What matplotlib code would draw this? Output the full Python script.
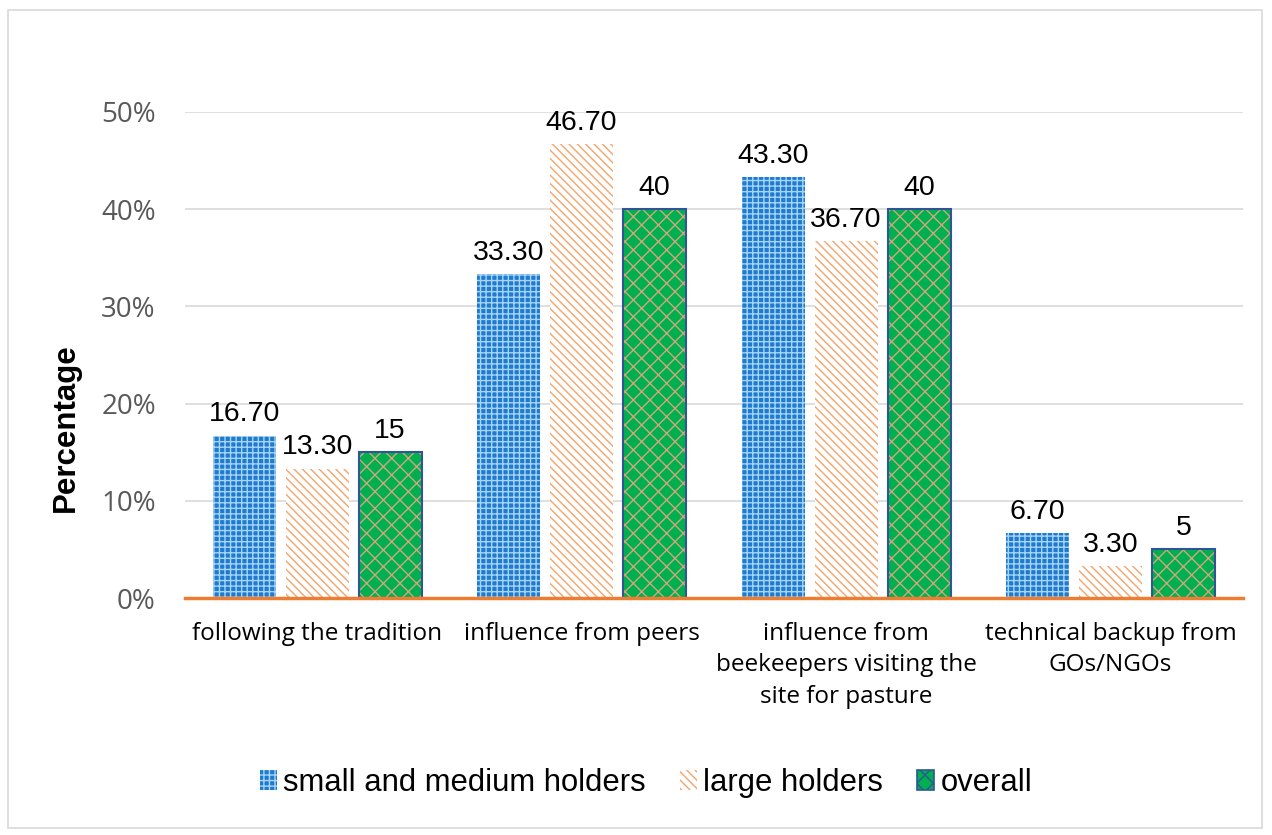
import matplotlib

matplotlib.use("Agg")
import matplotlib.pyplot as plt
import numpy as np
from matplotlib.patches import Rectangle
from matplotlib.ticker import PercentFormatter

categories = ["following the tradition", "influence from peers",
              "influence from\nbeekeepers visiting the\nsite for pasture",
              "technical backup from\nGOs/NGOs"]
series = ["small and medium holders", "large holders", "overall"]
small_medium = [16.70, 33.30, 43.30, 6.70]
large = [13.30, 46.70, 36.70, 3.30]
overall = [15, 40, 40, 5]
labels_small = ["16.70", "33.30", "43.30", "6.70"]
labels_large = ["13.30", "46.70", "36.70", "3.30"]
labels_overall = ["15", "40", "40", "5"]

fig = plt.figure(figsize=(12.72, 8.35), dpi=100)
fig.patches.append(Rectangle((8 / 1272, 1 - 828 / 835), 1254 / 1272, 818 / 835,
                             transform=fig.transFigure, fill=False,
                             edgecolor="#D9D9D9", lw=1.2))
ax = fig.add_axes([0.1454, 0.2838, 0.8316, 0.5821])

x = np.arange(len(categories))
w = 0.238
step = 0.276

styles = [
    dict(face="#1F7BD0", hatch="+++", hcol="#A8D4F5", border=None),
    dict(face="white", hatch="\\\\\\\\", hcol="#F4A46A", border=None),
    dict(face="#00B050", hatch="xx", hcol="#D3A57A", border="#2F5597"),
]
values = [small_medium, large, overall]
texts = [labels_small, labels_large, labels_overall]
handles = []
for i, (vals, st, txt) in enumerate(zip(values, styles, texts)):
    pos = x + (i - 1) * step
    ax.bar(pos, vals, w, color=st["face"], lw=0, zorder=2)
    ax.bar(pos, vals, w, fill=False, hatch=st["hatch"], edgecolor=st["hcol"],
           lw=0, zorder=3)
    if st["border"]:
        ax.bar(pos, vals, w, fill=False, edgecolor=st["border"], lw=1.5, zorder=4)
    for p, v, t in zip(pos, vals, txt):
        ax.annotate(t, (p, v), xytext=(0, 6), textcoords="offset points",
                    ha="center", va="bottom", fontsize=20.5,
                    family="Liberation Sans", color="black")
    handles.append(Rectangle((0, 0), 1, 1, facecolor=st["face"], hatch=st["hatch"],
                             edgecolor=st["border"] or st["hcol"],
                             lw=1.2 if st["border"] else 0))

ax.set_ylim(0, 50)
ax.set_xlim(-0.5, 3.5)
ax.yaxis.set_major_formatter(PercentFormatter(decimals=0))
ax.set_yticks(range(0, 51, 10))
ax.grid(axis="y", color="#D9D9D9", lw=1.2, zorder=0)
ax.set_axisbelow(True)
for s in ["top", "right", "left"]:
    ax.spines[s].set_visible(False)
ax.spines["bottom"].set_color("#ED7D31")
ax.spines["bottom"].set_linewidth(2.5)
ax.spines["bottom"].set_zorder(5)
ax.tick_params(axis="y", length=0, pad=21, labelsize=20, labelcolor="#595959")
ax.tick_params(axis="x", length=0, pad=17)
for lab in ax.get_yticklabels():
    lab.set_family("Open Sans")
ax.set_xticks(x)
ax.set_xticklabels(categories, fontsize=17.5, family="Open Sans", color="black",
                   va="top", linespacing=1.43)
ax.set_ylabel("Percentage", fontsize=22.5, fontweight="bold",
              family="Liberation Sans")
ax.yaxis.set_label_coords(-0.098, 0.35)

fig.legend(handles, series, loc="center", bbox_to_anchor=(0.508, 1 - 783 / 835),
           ncol=3, frameon=False, prop={"family": "Liberation Sans", "size": 22.3},
           handlelength=0.55, handleheight=0.6, handletextpad=0.2,
           columnspacing=1.1)

fig.savefig("out.png", dpi=100)
